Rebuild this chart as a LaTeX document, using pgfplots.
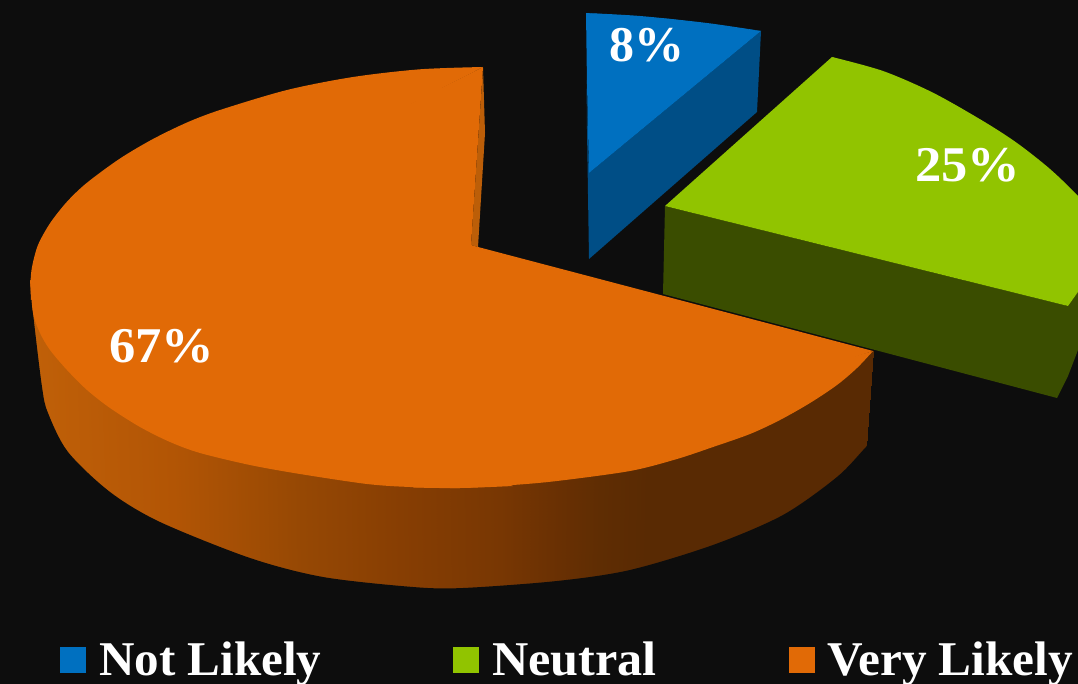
\documentclass[border=0pt]{standalone}
\usepackage{pgfplots}
\pgfplotsset{compat=1.18}
\usepackage{fontspec}
\setmainfont{Liberation Serif}
\definecolor{bgdark}{HTML}{0D0D0D}
\definecolor{blueTop}{HTML}{0070C0}
\definecolor{blueSide}{HTML}{004E86}
\definecolor{greenTop}{HTML}{91C400}
\definecolor{greenSide}{HTML}{3A4D00}
\definecolor{orangeTop}{HTML}{E16A06}
\definecolor{orangeInner}{HTML}{BC5E08}
\newcommand{\pct}[1]{\fontsize{50}{50}\selectfont\bfseries #1}
\newcommand{\lgd}[1]{\fontsize{48.5}{50}\selectfont\bfseries #1}
\begin{document}
\begin{tikzpicture}
\useasboundingbox (0,0) rectangle (1078pt,684pt);
\begin{axis}[
  at={(0,0)}, anchor=south west,
  scale only axis, width=1078pt, height=684pt,
  xmin=0, xmax=1078, ymin=0, ymax=684, y dir=reverse,
  axis lines=none,
  colormap={wallshade}{
    rgb255(30pt)=(192,96,8)
    rgb255(170pt)=(178,85,5)
    rgb255(300pt)=(150,72,4)
    rgb255(400pt)=(135,62,3)
    rgb255(500pt)=(120,55,3)
    rgb255(560pt)=(105,48,3)
    rgb255(600pt)=(95,45,3)
    rgb255(650pt)=(89,42,3)
    rgb255(873pt)=(89,42,3)},
  point meta min=30, point meta max=873,
]
% backdrop
\addplot[fill=bgdark, draw=none] coordinates {(0,0) (1078,0) (1078,684) (0,684)} --cycle;

% Very Likely: curved outer wall, one top/bottom pair per row
\addplot[patch, patch type=rectangle, mesh input=lattice, mesh/cols=2, shader=interp,
         point meta=\thisrow{c}] table {
x y c
30 287 30
35 400 30
38 312 36
44 420 36
47 332 45
52 442 45
59 348 57
62 460 57
79 370 77
83 478 77
102 390 100
106 500 100
126 407 124
130 515 124
154 425 152
157 530 152
194 440 192
197 550 192
245 453 243
248 566 243
296 462 295
298 578 295
320 467 319
322 585 319
365 474 364
366 592 364
411 477 411
412 595 411
461 478 461
463 596 461
513 475 513
513 593 513
558 471 558
557 589 558
602 465 602
600 583 602
633 460 633
630 578 633
681 448 681
677 565 681
718 435 718
714 553 718
756 421 756
751 540 756
790 404 790
784 523 790
821 386 821
814 503 821
845 368 845
838 485 845
873 351 873
866 447 873
};
% lower rim of the wall, backdrop colour below it
\addplot[smooth, fill=bgdark, draw=none] coordinates {
 (30,268) (31,287) (33,313) (42,387) (48,413) (68,452) (110,492) (160,522) (250,558)
 (323,577) (413,587) (463,588) (557,581) (630,570) (713,545) (783,515) (837,477)
 (866,447) (890,422) (1000,500) (1200,900) (-200,900) (-100,400)} --cycle;

% Very Likely: inner cut face
\addplot[fill=orangeInner, draw=none] coordinates {(483,68) (485,133) (478,247) (471,245)} --cycle;
% Very Likely: top face, centre polygon plus three rim caps
\addplot[fill=orangeTop, draw=none] coordinates {
 (483,67) (32,295) (460,487) (873,351) (478,247) (471,245)} --cycle;
\addplot[smooth, fill=orangeTop, draw=none] coordinates {
 (483,67) (420,69.3) (353,77) (287,90) (220,110) (187,122.5) (153,139) (120,158.5)
 (87,182.7) (67,201.7) (50,223.3) (38,245) (32,267) (30.5,283) (31,300)} --cycle;
\addplot[smooth, fill=orangeTop, draw=none] coordinates {
 (30,280) (33,313) (40,333) (50,350) (67,370) (87,390) (110,408) (140,427) (170,442)
 (200,453) (250,465) (300,474) (367,484) (410,487) (460,488) (513,486)} --cycle;
\addplot[smooth, fill=orangeTop, draw=none] coordinates {
 (413,487.5) (460,488) (513,485) (557,481) (630,471) (677,459) (713,447) (750,434)
 (780,420) (810,403) (837,385) (857,368) (873,351)} --cycle;

% Neutral: wall and top face
\addplot[fill=greenSide, draw=none] coordinates {
 (665,206) (1068,306) (1100,261) (1100,320) (1078,350) (1068,376) (1057,398) (663,294)} --cycle;
\addplot[fill=greenTop, draw=none] coordinates {
 (665,206) (832,57) (932,95) (1100,222) (1100,261) (1068,306)} --cycle;
\addplot[smooth, fill=greenTop, draw=none] coordinates {
 (832,57) (883,71) (933,92.7) (983,121) (1017,143) (1050,169) (1078,196) (1100,222)} --cycle;

% Not Likely: wall and top face
\addplot[fill=blueSide, draw=none] coordinates {
 (761,31) (757,112) (589,259) (587,130) (586.5,80) (589,173)} --cycle;
\addplot[fill=blueTop, draw=none] coordinates {
 (586,13) (670,19) (761,31) (589,173) (587,85)} --cycle;
\addplot[smooth, fill=blueTop, draw=none] coordinates {
 (586,13) (640,16) (707,23) (761,31)} --cycle;

% legend swatches
\addplot[fill=blueTop, draw=none] coordinates {(60,647) (86,647) (86,673) (60,673)} --cycle;
\addplot[fill=greenTop, draw=none] coordinates {(453,647) (479,647) (479,673) (453,673)} --cycle;
\addplot[fill=orangeTop, draw=none] coordinates {(789,647) (815,647) (815,673) (789,673)} --cycle;

% value labels
\node[anchor=base west, inner sep=0pt, text=white] at (axis cs:609,62) {\pct{8\%}};
\node[anchor=base west, inner sep=0pt, text=white, xscale=1.05] at (axis cs:915,182) {\pct{25\%}};
\node[anchor=base west, inner sep=0pt, text=white, xscale=1.05] at (axis cs:109,362) {\pct{67\%}};

% legend entries
\node[anchor=base west, inner sep=0pt, text=white, xscale=1.012] at (axis cs:99,675) {\lgd{Not Likely}};
\node[anchor=base west, inner sep=0pt, text=white, xscale=1.036] at (axis cs:492,675) {\lgd{Neutral}};
\node[anchor=base west, inner sep=0pt, text=white, xscale=1.016] at (axis cs:827,675) {\lgd{Very Likely}};
\end{axis}
\end{tikzpicture}
\end{document}
